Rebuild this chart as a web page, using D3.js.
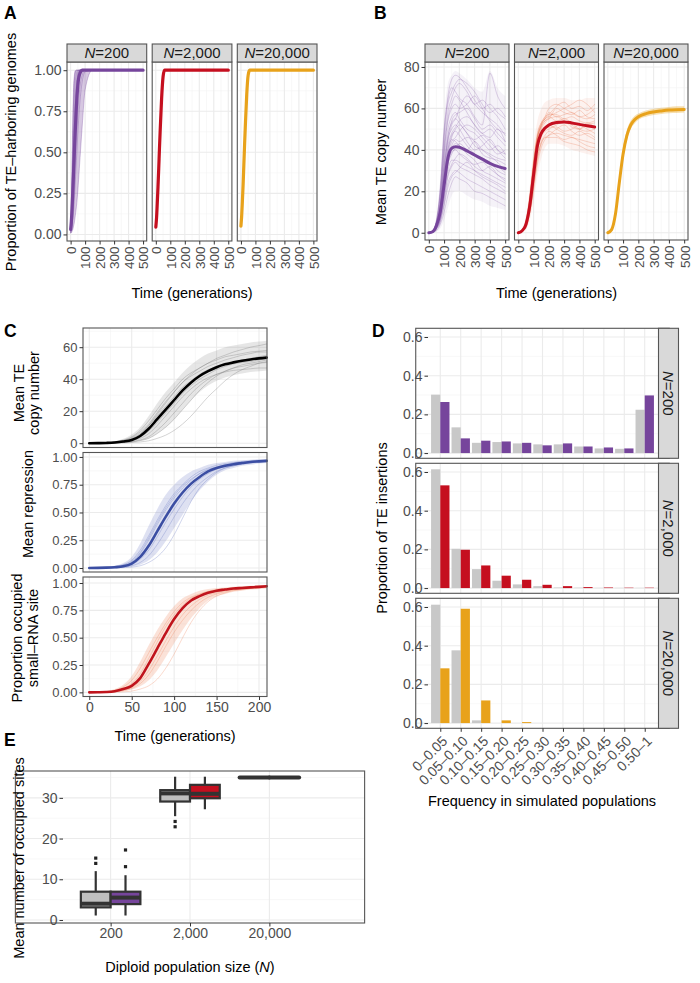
<!DOCTYPE html>
<html><head><meta charset="utf-8">
<script src="https://cdn.jsdelivr.net/npm/d3@7/dist/d3.min.js"></script>
<style>
html,body{margin:0;padding:0;background:#fff;}
svg text{font-family:'Liberation Sans',Arial,Helvetica,sans-serif;}
</style></head>
<body><svg width="700" height="983"></svg>
<script>
// ================= DATA =================
const popLabels = ["200", "2,000", "20,000"];

// ---- Panel A: proportion of TE-harboring genomes ----
const timeA = [0, 5, 10, 15, 20, 25, 30, 40, 50, 60, 80, 100, 150, 200, 300, 400, 500];
const propMean200   = [0.03, 0.08, 0.16, 0.26, 0.37, 0.48, 0.59, 0.78, 0.91, 0.97, 1, 1, 1, 1, 1, 1, 1];
const propMean2000  = [0.045, 0.1, 0.19, 0.29, 0.4, 0.52, 0.63, 0.83, 0.96, 1, 1, 1, 1, 1, 1, 1, 1];
const propMean20000 = [0.05, 0.11, 0.2, 0.3, 0.42, 0.54, 0.65, 0.85, 0.97, 1, 1, 1, 1, 1, 1, 1, 1];
const propHi200 = [0.05, 0.22, 0.48, 0.74, 0.9, 0.97, 1, 1, 1, 1, 1, 1, 1, 1, 1, 1, 1];
const propLo200 = [0.01, 0.01, 0.02, 0.03, 0.05, 0.07, 0.1, 0.17, 0.27, 0.4, 0.66, 0.88, 1, 1, 1, 1, 1];
const propReps200 = [
  [0.03, 0.1, 0.25, 0.45, 0.65, 0.8, 0.9, 0.98, 1, 1, 1, 1, 1, 1, 1, 1, 1],
  [0.02, 0.05, 0.12, 0.25, 0.4, 0.55, 0.68, 0.86, 0.96, 0.99, 1, 1, 1, 1, 1, 1, 1],
  [0.04, 0.15, 0.35, 0.6, 0.8, 0.92, 0.97, 1, 1, 1, 1, 1, 1, 1, 1, 1, 1],
  [0.02, 0.04, 0.08, 0.15, 0.25, 0.36, 0.48, 0.7, 0.86, 0.94, 0.99, 1, 1, 1, 1, 1, 1],
  [0.03, 0.08, 0.18, 0.33, 0.5, 0.66, 0.78, 0.93, 0.99, 1, 1, 1, 1, 1, 1, 1, 1],
  [0.01, 0.02, 0.04, 0.08, 0.13, 0.2, 0.28, 0.45, 0.62, 0.76, 0.93, 0.99, 1, 1, 1, 1, 1],
  [0.05, 0.2, 0.45, 0.7, 0.88, 0.96, 0.99, 1, 1, 1, 1, 1, 1, 1, 1, 1, 1],
  [0.01, 0.03, 0.06, 0.11, 0.18, 0.27, 0.37, 0.57, 0.74, 0.86, 0.97, 1, 1, 1, 1, 1, 1],
  [0.02, 0.06, 0.15, 0.3, 0.47, 0.62, 0.75, 0.9, 0.97, 1, 1, 1, 1, 1, 1, 1, 1],
  [0.01, 0.01, 0.02, 0.03, 0.05, 0.07, 0.1, 0.17, 0.27, 0.4, 0.66, 0.88, 1, 1, 1, 1, 1]
];

// ---- Panel B: mean TE copy number ----
const timeB = [0, 25, 50, 75, 100, 125, 150, 175, 200, 250, 300, 350, 400, 450, 500];
const copyMean200   = [0, 0.5, 3.5, 10, 23, 36, 40.8, 41.5, 41.3, 39.5, 37.5, 35.5, 33.5, 32, 31];
const copyMean2000  = [0, 1, 4, 13, 28, 42, 48, 50.5, 52, 53.2, 53.5, 53, 52.3, 51.6, 51];
const copyMean20000 = [0, 1.5, 9, 24, 38, 47, 52, 54.5, 56, 57.5, 58.3, 58.8, 59.2, 59.4, 59.5];
const copyHi200 = [0, 1.5, 8, 26, 56, 72, 76, 78, 77, 74, 70, 68, 78, 70, 66];
const copyLo200 = [0, 0, 0.5, 2, 6, 12, 18, 20, 20, 18, 16, 15, 13, 12, 11];
const copyHi2000 = [0, 2, 8, 22, 42, 54, 60, 63, 64, 65, 65, 64, 64, 65, 65];
const copyLo2000 = [0, 0.4, 1.5, 6, 15, 27, 36, 41, 43, 43, 42, 40, 39, 38, 37];
const copyHi20000 = [0, 2.2, 11, 27, 41, 49.5, 54, 56.3, 57.5, 59, 59.8, 60.3, 60.7, 61, 61];
const copyLo20000 = [0, 1, 7, 21, 35, 44.5, 50, 52.7, 54.5, 56, 56.8, 57.3, 57.7, 57.8, 58];
const copyReps200 = [
  [0, 1, 5, 20, 48, 66, 74, 76, 75, 70, 64, 60, 62, 58, 55],
  [0, 0.5, 3, 10, 24, 36, 41, 43, 42, 38, 35, 30, 28, 26, 24],
  [0, 0.3, 2, 6, 14, 24, 28, 30, 29, 26, 24, 22, 20, 18, 16],
  [0, 0.5, 4, 14, 36, 50, 56, 58, 55, 50, 48, 44, 40, 42, 38],
  [0, 0.5, 3, 10, 26, 40, 47, 49, 47, 42, 38, 36, 34, 30, 28],
  [0, 0.2, 1, 4, 10, 18, 24, 27, 26, 24, 20, 19, 17, 15, 13],
  [0, 0.5, 4, 12, 30, 46, 54, 57, 58, 60, 55, 50, 52, 48, 44],
  [0, 0.5, 3, 9, 22, 35, 42, 45, 44, 46, 44, 38, 36, 35, 33],
  [0, 1, 6, 22, 50, 64, 70, 68, 65, 62, 56, 52, 77, 66, 60],
  [0, 0.3, 2, 7, 18, 30, 35, 35, 34, 32, 30, 28, 26, 24, 22],
  [0, 0.5, 3, 9, 24, 38, 46, 50, 52, 48, 42, 40, 38, 36, 35],
  [0, 0.5, 4, 13, 32, 45, 50, 52, 50, 44, 40, 42, 45, 40, 36],
  [0, 0.5, 3, 10, 25, 37, 44, 46, 49, 52, 50, 46, 42, 38, 40],
  [0, 0.3, 2, 6, 16, 27, 32, 34, 32, 30, 28, 26, 23, 21, 19],
  [0, 0.8, 5, 18, 42, 58, 65, 70, 72, 68, 62, 64, 60, 56, 50],
  [0, 0.5, 3, 11, 27, 40, 45, 44, 42, 40, 44, 40, 37, 34, 30],
  [0, 0.4, 3, 12, 30, 44, 52, 55, 60, 66, 62, 58, 55, 52, 47],
  [0, 0.6, 4, 15, 38, 55, 62, 66, 64, 58, 52, 48, 50, 46, 42],
  [0, 0.2, 1.5, 5, 13, 22, 27, 29, 31, 34, 30, 27, 25, 23, 20],
  [0, 0.7, 5, 17, 40, 54, 60, 62, 60, 62, 66, 60, 54, 50, 48],
  [0, 0.4, 2.5, 8, 20, 33, 39, 40, 38, 35, 33, 34, 31, 28, 26],
  [0, 0.5, 3.5, 11, 28, 42, 48, 51, 54, 56, 52, 48, 46, 50, 44],
  [0, 0.3, 2, 7, 17, 28, 33, 36, 38, 36, 32, 30, 32, 28, 25],
  [0, 0.8, 6, 20, 46, 62, 68, 72, 74, 72, 68, 62, 58, 60, 56],
  [0, 0.4, 2.5, 9, 21, 33, 38, 41, 43, 40, 37, 36, 34, 32, 29],
  [0, 0.6, 4, 13, 33, 47, 53, 55, 53, 48, 45, 47, 44, 40, 38]
];
const copyReps2000 = [
  [0, 1.2, 5, 16, 33, 47, 53, 56, 57, 57, 55, 56, 54, 53, 54],
  [0, 0.8, 3, 10, 23, 36, 43, 46, 47, 48, 47, 46, 45, 44, 43],
  [0, 1, 4.5, 14, 30, 44, 51, 54, 55, 60, 58, 57, 59, 56, 55],
  [0, 0.6, 2.5, 9, 20, 33, 41, 45, 47, 50, 52, 49, 47, 48, 46],
  [0, 1.5, 6, 18, 35, 48, 53, 55, 56, 54, 55, 53, 50, 49, 50],
  [0, 1, 4, 12, 27, 41, 47, 50, 51, 51, 49, 50, 52, 50, 48],
  [0, 1.2, 5, 15, 31, 45, 52, 56, 60, 62, 60, 58, 56, 57, 60],
  [0, 0.7, 3, 10, 22, 35, 43, 46, 46, 46, 44, 43, 42, 40, 39],
  [0, 1, 4, 13, 29, 43, 50, 53, 55, 56, 54, 52, 50, 52, 53],
  [0, 1.4, 5.5, 17, 34, 46, 51, 54, 56, 58, 60, 62, 64, 62, 58],
  [0, 0.9, 3.5, 11, 25, 39, 46, 49, 50, 52, 54, 51, 50, 53, 51],
  [0, 1.1, 4.5, 15, 32, 46, 52, 55, 58, 56, 57, 58, 56, 55, 57],
  [0, 0.8, 3.5, 11, 24, 37, 44, 47, 49, 47, 45, 46, 44, 42, 41],
  [0, 1.3, 5, 16, 33, 46, 52, 55, 57, 61, 63, 60, 61, 59, 62],
  [0, 0.9, 4, 13, 28, 41, 47, 50, 52, 50, 48, 47, 49, 47, 45]
];

// ---- Panel C: dynamics for N=2,000 ----
const timeC = [0, 10, 20, 30, 40, 50, 60, 70, 80, 90, 100, 110, 120, 130, 140, 150, 160, 170, 180, 190, 200, 209];
const teMean = [0, 0.05, 0.15, 0.4, 1, 2, 4.5, 9, 15, 21, 27, 33, 38, 42, 45, 47.5, 49.3, 50.5, 51.5, 52.3, 53, 53.5];
const teHi = [0, 0.2, 0.5, 1.2, 2.8, 5.5, 10, 17, 25, 32, 38, 44, 49, 53, 56, 58, 60, 61, 62, 63, 63.5, 64];
const teLo = [0, 0, 0.05, 0.15, 0.35, 0.8, 1.5, 3, 6, 10, 15, 21, 27, 32, 36, 39, 41, 42.5, 43.5, 44.5, 45, 45.5];
const teReps = [
  [0, 0.1, 0.3, 0.8, 2, 4, 8, 14, 21, 28, 34, 40, 44, 47, 50, 52, 54, 55, 56, 57, 57.5, 58],
  [0, 0, 0.1, 0.2, 0.5, 1, 2, 4, 8, 13, 19, 25, 31, 36, 40, 43, 45, 47, 48, 49, 50, 50.5],
  [0, 0.05, 0.2, 0.5, 1.2, 2.5, 5.5, 11, 18, 25, 32, 38, 43, 47, 50, 53, 55, 57, 58.5, 60, 61, 62],
  [0, 0, 0.1, 0.3, 0.7, 1.5, 3, 6, 11, 17, 23, 29, 34, 38, 41, 43, 44.5, 45.5, 46, 46.5, 47, 47],
  [0, 0.1, 0.2, 0.6, 1.4, 3, 6, 11, 17, 23, 29, 35, 39, 43, 46, 48, 50, 51, 52, 53, 54, 55],
  [0, 0, 0.05, 0.2, 0.4, 0.8, 1.6, 3, 6, 10, 15, 21, 27, 33, 38, 42, 45, 47, 49, 50, 51, 52],
  [0, 0.1, 0.3, 0.7, 1.6, 3.5, 7, 12, 19, 26, 32, 38, 42, 45, 48, 50, 52, 53.5, 55, 56, 57, 57],
  [0, 0.05, 0.1, 0.3, 0.8, 1.8, 3.8, 7.5, 13, 19, 25, 31, 36, 40, 43, 46, 48, 49.5, 50.5, 51, 52, 53],
  [0, 0, 0, 0.1, 0.2, 0.4, 0.8, 1.5, 3, 5, 8, 12, 17, 23, 29, 34, 39, 43, 46, 48, 50, 51]
];
const repMean = [0, 0.001, 0.003, 0.007, 0.015, 0.04, 0.1, 0.2, 0.33, 0.46, 0.58, 0.68, 0.76, 0.82, 0.87, 0.9, 0.92, 0.935, 0.945, 0.955, 0.96, 0.965];
const repHi = [0, 0.003, 0.008, 0.02, 0.045, 0.1, 0.22, 0.38, 0.53, 0.66, 0.75, 0.82, 0.87, 0.9, 0.93, 0.945, 0.955, 0.965, 0.97, 0.975, 0.98, 0.98];
const repLo = [0, 0, 0.001, 0.002, 0.005, 0.012, 0.03, 0.07, 0.14, 0.24, 0.36, 0.48, 0.6, 0.7, 0.78, 0.84, 0.88, 0.9, 0.92, 0.93, 0.94, 0.945];
const repReps = [
  [0, 0.002, 0.006, 0.015, 0.03, 0.07, 0.16, 0.29, 0.43, 0.56, 0.67, 0.75, 0.82, 0.87, 0.9, 0.925, 0.94, 0.95, 0.96, 0.965, 0.97, 0.97],
  [0, 0, 0.001, 0.003, 0.008, 0.02, 0.05, 0.11, 0.21, 0.33, 0.46, 0.58, 0.68, 0.76, 0.82, 0.87, 0.9, 0.92, 0.935, 0.945, 0.955, 0.96],
  [0, 0.001, 0.004, 0.01, 0.02, 0.05, 0.13, 0.25, 0.39, 0.52, 0.63, 0.72, 0.79, 0.85, 0.89, 0.91, 0.93, 0.945, 0.955, 0.96, 0.965, 0.97],
  [0, 0, 0.002, 0.005, 0.012, 0.03, 0.08, 0.16, 0.28, 0.41, 0.53, 0.64, 0.73, 0.8, 0.85, 0.89, 0.91, 0.93, 0.94, 0.95, 0.96, 0.96],
  [0, 0.002, 0.005, 0.012, 0.025, 0.06, 0.14, 0.27, 0.41, 0.54, 0.65, 0.74, 0.8, 0.85, 0.88, 0.9, 0.92, 0.94, 0.95, 0.955, 0.96, 0.965],
  [0, 0, 0, 0.001, 0.003, 0.008, 0.02, 0.05, 0.1, 0.18, 0.3, 0.45, 0.6, 0.72, 0.8, 0.86, 0.9, 0.92, 0.94, 0.95, 0.955, 0.96]
];
const occMean = [0, 0.001, 0.003, 0.01, 0.03, 0.06, 0.13, 0.26, 0.4, 0.54, 0.67, 0.77, 0.84, 0.88, 0.91, 0.93, 0.94, 0.95, 0.955, 0.96, 0.965, 0.97];
const occHi = [0, 0.003, 0.01, 0.03, 0.07, 0.15, 0.28, 0.43, 0.57, 0.69, 0.79, 0.86, 0.9, 0.93, 0.945, 0.955, 0.96, 0.965, 0.97, 0.975, 0.98, 0.98];
const occLo = [0, 0, 0.001, 0.003, 0.01, 0.025, 0.055, 0.11, 0.2, 0.32, 0.45, 0.57, 0.68, 0.77, 0.84, 0.88, 0.9, 0.92, 0.93, 0.94, 0.945, 0.95];
const occReps = [
  [0, 0.002, 0.006, 0.02, 0.05, 0.11, 0.22, 0.36, 0.5, 0.63, 0.74, 0.82, 0.87, 0.9, 0.925, 0.94, 0.95, 0.955, 0.96, 0.965, 0.97, 0.97],
  [0, 0, 0.002, 0.005, 0.015, 0.035, 0.08, 0.16, 0.28, 0.42, 0.55, 0.66, 0.75, 0.82, 0.87, 0.9, 0.92, 0.935, 0.945, 0.95, 0.96, 0.965],
  [0, 0.001, 0.004, 0.012, 0.035, 0.08, 0.17, 0.31, 0.46, 0.6, 0.71, 0.8, 0.86, 0.895, 0.92, 0.935, 0.945, 0.955, 0.96, 0.965, 0.97, 0.97],
  [0, 0.001, 0.002, 0.007, 0.02, 0.045, 0.1, 0.2, 0.33, 0.47, 0.6, 0.71, 0.79, 0.85, 0.89, 0.91, 0.93, 0.94, 0.95, 0.955, 0.96, 0.965],
  [0, 0, 0, 0.002, 0.005, 0.012, 0.03, 0.06, 0.12, 0.22, 0.35, 0.5, 0.64, 0.75, 0.83, 0.88, 0.91, 0.93, 0.94, 0.95, 0.955, 0.96]
];

// ---- Panel D: site frequency spectrum ----
const freqBins = ["0–0.05", "0.05–0.10", "0.10–0.15", "0.15–0.20", "0.20–0.25", "0.25–0.30", "0.30–0.35", "0.35–0.40", "0.40–0.45", "0.45–0.50", "0.50–1"];
const neutral200   = [0.302, 0.133, 0.053, 0.057, 0.050, 0.045, 0.045, 0.034, 0.024, 0.022, 0.224];
const sim200       = [0.264, 0.076, 0.064, 0.060, 0.053, 0.040, 0.050, 0.034, 0.029, 0.024, 0.298];
const neutral2000  = [0.614, 0.203, 0.098, 0.038, 0.019, 0.010, 0.003, 0.002, 0.001, 0.001, 0.001];
const sim2000      = [0.531, 0.198, 0.117, 0.064, 0.043, 0.017, 0.010, 0.005, 0.003, 0.002, 0.002];
const neutral20000 = [0.612, 0.376, 0.014, 0, 0, 0, 0, 0, 0, 0, 0];
const sim20000     = [0.283, 0.591, 0.117, 0.014, 0.005, 0, 0, 0, 0, 0, 0];

// ---- Panel E: occupied sites boxplots ----
const neutralLow  = [1.1, 25.5, 35];
const neutralQ1   = [3.1, 29.1, 35];
const neutralMed  = [4.0, 31.1, 35];
const neutralQ3   = [6.95, 31.9, 35];
const neutralHigh = [12, 35.2, 35];
const neutralOut  = [[13.9, 15.2], [22.9, 24.2], []];
const simLow  = [1.1, 27.2, 35];
const simQ1   = [3.9, 29.9, 35];
const simMed  = [5.5, 31.0, 35];
const simQ3   = [6.95, 33.2, 35];
const simHigh = [11, 35.2, 35];
const simOut  = [[13.1, 17.2], [], []];

// ================= DRAW =================
const svg = d3.select("svg");
const COL = { purple: "#76459c", red: "#c50f1f", orange: "#e8a21b", grey: "#c8c8c8", boxGrey: "#bfbfbf" };
const popColors = [COL.purple, COL.red, COL.orange];
const GRID_MAJ = "#ebebeb", GRID_MIN = "#f4f4f4", BORDER = "#555", TICKTXT = "#4d4d4d", DARK = "#333";

function gridPanel(g, x, y, xMaj, xMin, yMaj, yMin) {
  const pad = x.step ? x.step() * x.padding() : 0;
  const x0 = x.range()[0] - pad, x1 = x.range()[1] + pad;
  const [yb, yt] = y.range();
  g.append("rect").attr("x", x0).attr("y", yt).attr("width", x1 - x0).attr("height", yb - yt).attr("fill", "#fff");
  const vl = (v, c, w) => g.append("line").attr("x1", x(v)).attr("x2", x(v)).attr("y1", yt).attr("y2", yb).attr("stroke", c).attr("stroke-width", w);
  const hl = (v, c, w) => g.append("line").attr("y1", y(v)).attr("y2", y(v)).attr("x1", x0).attr("x2", x1).attr("stroke", c).attr("stroke-width", w);
  (yMin || []).forEach(v => hl(v, GRID_MIN, 0.6));
  (xMin || []).forEach(v => vl(v, GRID_MIN, 0.6));
  (yMaj || []).forEach(v => hl(v, GRID_MAJ, 1.1));
  (xMaj || []).forEach(v => vl(v, GRID_MAJ, 1.1));
  return [x0, x1, yt, yb];
}
function borderRect(g, b) {
  g.append("rect").attr("x", b[0]).attr("y", b[2]).attr("width", b[1] - b[0]).attr("height", b[3] - b[2])
    .attr("fill", "none").attr("stroke", BORDER).attr("stroke-width", 1.1);
}
function styleAxis(sel, fs) {
  sel.select(".domain").remove();
  sel.selectAll(".tick line").attr("stroke", DARK).attr("stroke-width", 1);
  sel.selectAll(".tick text").attr("fill", TICKTXT).style("font-size", (fs || 14) + "px")
    .style("font-family", "'Liberation Sans',Arial,Helvetica,sans-serif");
}
function drawLine(g, xs, ys, x, y, color, width, opacity) {
  const line = d3.line().x((d, i) => x(xs[i])).y(d => y(d)).curve(d3.curveMonotoneX);
  g.append("path").datum(ys).attr("d", line).attr("fill", "none").attr("stroke", color)
    .attr("stroke-width", width).attr("stroke-opacity", opacity).attr("stroke-linejoin", "round").attr("stroke-linecap", "round");
}
function drawBand(g, xs, lo, hi, x, y, color, opacity) {
  const area = d3.area().x((d, i) => x(xs[i])).y0((d, i) => y(lo[i])).y1((d, i) => y(hi[i])).curve(d3.curveMonotoneX);
  g.append("path").datum(lo).attr("d", area).attr("fill", color).attr("fill-opacity", opacity);
}
function nLabel(t, value) {
  t.append("tspan").attr("font-style", "italic").text("N");
  t.append("tspan").text("=" + value);
}
function stripTop(x0, x1, y0, y1, value) {
  svg.append("rect").attr("x", x0).attr("y", y0).attr("width", x1 - x0).attr("height", y1 - y0)
    .attr("fill", "#d9d9d9").attr("stroke", BORDER).attr("stroke-width", 1.1);
  const t = svg.append("text").attr("x", (x0 + x1) / 2).attr("y", (y0 + y1) / 2).attr("dy", "0.36em")
    .attr("text-anchor", "middle").attr("font-size", 15).attr("fill", "#1a1a1a");
  nLabel(t, value);
}
function stripRight(x0, x1, y0, y1, value) {
  svg.append("rect").attr("x", x0).attr("y", y0).attr("width", x1 - x0).attr("height", y1 - y0)
    .attr("fill", "#d9d9d9").attr("stroke", BORDER).attr("stroke-width", 1.1);
  const t = svg.append("text").attr("transform", `translate(${(x0 + x1) / 2},${(y0 + y1) / 2}) rotate(90)`)
    .attr("dy", "0.36em").attr("text-anchor", "middle").attr("font-size", 15).attr("fill", "#1a1a1a");
  nLabel(t, value);
}
function title(x, y, s, rot, size) {
  return svg.append("text").attr("transform", `translate(${x},${y})` + (rot ? ` rotate(${rot})` : ""))
    .attr("text-anchor", "middle").attr("font-size", size || 14.5).attr("fill", "#000").text(s);
}
function letter(x, y, s) {
  svg.append("text").attr("x", x).attr("y", y).attr("font-size", 17.5).attr("font-weight", "bold").attr("fill", "#000").text(s);
}
function rotatedXAxis(g, x, yPos) {
  const ax = g.append("g").attr("transform", `translate(0,${yPos})`)
    .call(d3.axisBottom(x).tickValues([0, 100, 200, 300, 400, 500]).tickSize(3.5).tickFormat(d3.format("d")));
  styleAxis(ax, 13.5);
  ax.selectAll(".tick text").attr("transform", "rotate(-90)").attr("text-anchor", "end")
    .attr("x", -5.5).attr("y", 0).attr("dy", "0.36em");
}

// ---------- Panel A ----------
letter(4, 18.5, "A");
const aRanges = [[67, 146.7], [152.2, 231.9], [237.3, 317]];
const aMeans = [propMean200, propMean2000, propMean20000];
aRanges.forEach((r, i) => {
  const x = d3.scaleLinear().domain([-25, 525]).range(r);
  const y = d3.scaleLinear().domain([-0.04, 1.05]).range([241, 62]);
  const g = svg.append("g");
  const b = gridPanel(g, x, y, [0, 100, 200, 300, 400, 500], [50, 150, 250, 350, 450], [0, 0.25, 0.5, 0.75, 1], [0.125, 0.375, 0.625, 0.875]);
  if (i === 0) {
    drawBand(g, timeA, propLo200, propHi200, x, y, COL.purple, 0.3);
    propReps200.forEach(rp => drawLine(g, timeA, rp, x, y, COL.purple, 0.8, 0.4));
  }
  drawLine(g, timeA, aMeans[i], x, y, popColors[i], 3.2, 1);
  borderRect(g, b);
  stripTop(r[0], r[1], 44, 62, popLabels[i]);
  rotatedXAxis(g, x, 241);
  if (i === 0) {
    const ay = g.append("g").attr("transform", `translate(${r[0]},0)`)
      .call(d3.axisLeft(y).tickValues([0, 0.25, 0.5, 0.75, 1]).tickSize(3.5).tickPadding(2).tickFormat(d3.format(".2f")));
    styleAxis(ay, 14);
  }
});
title(15.5, 152, "Proportion of TE–harboring genomes", -90);
title(192, 298, "Time (generations)");

// ---------- Panel B ----------
letter(374, 18.5, "B");
const bRanges = [[425, 509], [514.5, 598.5], [604, 688]];
const bMeans = [copyMean200, copyMean2000, copyMean20000];
const bHi = [copyHi200, copyHi2000, copyHi20000];
const bLo = [copyLo200, copyLo2000, copyLo20000];
const bReps = [copyReps200, copyReps2000, []];
const bRepColors = [COL.purple, "#e2582e", COL.orange];
const bBandOp = [0.07, 0.08, 0.35];
bRanges.forEach((r, i) => {
  const x = d3.scaleLinear().domain([-25, 525]).range(r);
  const y = d3.scaleLinear().domain([-3.5, 82.4]).range([240, 62]);
  const g = svg.append("g");
  const b = gridPanel(g, x, y, [0, 100, 200, 300, 400, 500], [50, 150, 250, 350, 450], [0, 20, 40, 60, 80], [10, 30, 50, 70]);
  drawBand(g, timeB, bLo[i], bHi[i], x, y, bRepColors[i], bBandOp[i]);
  bReps[i].forEach(rp => drawLine(g, timeB, rp, x, y, bRepColors[i], 0.7, 0.32));
  drawLine(g, timeB, bMeans[i], x, y, popColors[i], 3, 1);
  borderRect(g, b);
  stripTop(r[0], r[1], 44, 62, popLabels[i]);
  rotatedXAxis(g, x, 240);
  if (i === 0) {
    const ay = g.append("g").attr("transform", `translate(${r[0]},0)`)
      .call(d3.axisLeft(y).tickValues([0, 20, 40, 60, 80]).tickSize(3.5).tickPadding(2));
    styleAxis(ay, 14);
  }
});
title(386, 152, "Mean TE copy number", -90);
title(556.5, 298, "Time (generations)");

// ---------- Panel C ----------
letter(4, 337, "C");
const cx = d3.scaleLinear().domain([-7.4, 209.4]).range([83, 267]);
const cPanels = [
  { y0: 328, y1: 447.5, dom: [-2.7, 72], maj: [0, 20, 40, 60], min: [10, 30, 50, 70], fmt: d3.format("d"),
    mean: teMean, hi: teHi, lo: teLo, reps: teReps, col: "#000", repCol: "#777", bandOp: 0.18 },
  { y0: 452.5, y1: 572, dom: [-0.036, 1.04], maj: [0, 0.25, 0.5, 0.75, 1], min: [0.125, 0.375, 0.625, 0.875], fmt: d3.format(".2f"),
    mean: repMean, hi: repHi, lo: repLo, reps: repReps, col: "#3b4ea3", repCol: "#6878c4", bandOp: 0.22 },
  { y0: 577, y1: 696.5, dom: [-0.038, 1.055], maj: [0, 0.25, 0.5, 0.75, 1], min: [0.125, 0.375, 0.625, 0.875], fmt: d3.format(".2f"),
    mean: occMean, hi: occHi, lo: occLo, reps: occReps, col: "#c0141c", repCol: "#ee8a62", bandOp: 0.25 }
];
cPanels.forEach((p, i) => {
  const y = d3.scaleLinear().domain(p.dom).range([p.y1, p.y0]);
  const g = svg.append("g");
  const b = gridPanel(g, cx, y, [0, 50, 100, 150, 200], [25, 75, 125, 175], p.maj, p.min);
  drawBand(g, timeC, p.lo, p.hi, cx, y, p.repCol, p.bandOp);
  p.reps.forEach(rp => drawLine(g, timeC, rp, cx, y, p.repCol, 0.7, 0.45));
  drawLine(g, timeC, p.mean, cx, y, p.col, 2.6, 1);
  borderRect(g, b);
  const ay = g.append("g").attr("transform", "translate(83,0)")
    .call(d3.axisLeft(y).tickValues(p.maj).tickSize(3.5).tickPadding(2).tickFormat(p.fmt));
  styleAxis(ay, 13);
  if (i === 2) {
    const ax = g.append("g").attr("transform", `translate(0,${p.y1})`)
      .call(d3.axisBottom(cx).tickValues([0, 50, 100, 150, 200]).tickSize(3.5).tickPadding(2));
    styleAxis(ax, 14);
  }
});
title(24, 393, "Mean TE", -90);
title(39, 393, "copy number", -90);
title(33, 504, "Mean repression", -90);
title(22, 638, "Proportion occupied", -90);
title(38, 638, "small–RNA site", -90);
title(175, 741, "Time (generations)");

// ---------- Panel D ----------
letter(372, 337, "D");
const dx = d3.scalePoint().domain(freqBins).range([428, 657]).padding(0.6);
const dStep = dx.step();
const dNeutral = [neutral200, neutral2000, neutral20000];
const dSim = [sim200, sim2000, sim20000];
const dTops = [328.3, 463.3, 598.3];
dTops.forEach((top, i) => {
  const y = d3.scaleLinear().domain([-0.027, 0.645]).range([top + 130, top]);
  const g = svg.append("g");
  const b = gridPanel(g, dx, y, freqBins, [], [0, 0.2, 0.4, 0.6], [0.1, 0.3, 0.5]);
  const bw = 0.45 * dStep;
  g.selectAll(null).data(freqBins).enter().append("rect")
    .attr("x", d => dx(d) - bw).attr("width", bw)
    .attr("y", (d, k) => y(dNeutral[i][k])).attr("height", (d, k) => y(0) - y(dNeutral[i][k]))
    .attr("fill", COL.grey);
  g.selectAll(null).data(freqBins).enter().append("rect")
    .attr("x", d => dx(d)).attr("width", bw)
    .attr("y", (d, k) => y(dSim[i][k])).attr("height", (d, k) => y(0) - y(dSim[i][k]))
    .attr("fill", popColors[i]);
  borderRect(g, b);
  stripRight(658.5, 678.5, top, top + 130, popLabels[i]);
  const ay = g.append("g").attr("transform", "translate(428,0)")
    .call(d3.axisLeft(y).tickValues([0, 0.2, 0.4, 0.6]).tickSize(3.5).tickPadding(2).tickFormat(d3.format(".1f")));
  styleAxis(ay, 14);
  if (i === 2) {
    const ax = g.append("g").attr("transform", `translate(0,${top + 130})`)
      .call(d3.axisBottom(dx).tickSize(3.5));
    styleAxis(ax, 14);
    ax.selectAll(".tick text").attr("text-anchor", "end").attr("x", 0).attr("y", 0).attr("dy", "0.36em")
      .attr("transform", "translate(4,10) rotate(-45)");
  }
});
title(387, 528, "Proportion of TE insertions", -90);
title(542, 806, "Frequency in simulated populations");

// ---------- Panel E ----------
letter(4, 746, "E");
const ex = d3.scalePoint().domain(popLabels).range([63, 317]).padding(0.6);
const ey = d3.scaleLinear().domain([-0.74, 36.6]).range([923, 771]);
const eg = svg.append("g");
const eb = gridPanel(eg, ex, ey, popLabels, [], [0, 10, 20, 30], [5, 15, 25, 35]);
const half = 0.375 * ex.step();
function boxes(offset, low, q1, med, q3, high, outs, fills) {
  popLabels.forEach((p, k) => {
    const x0 = ex(p) + offset, xm = x0 + half / 2;
    eg.append("line").attr("x1", xm).attr("x2", xm).attr("y1", ey(q3[k])).attr("y2", ey(high[k])).attr("stroke", DARK).attr("stroke-width", 2.2);
    eg.append("line").attr("x1", xm).attr("x2", xm).attr("y1", ey(q1[k])).attr("y2", ey(low[k])).attr("stroke", DARK).attr("stroke-width", 2.2);
    eg.append("rect").attr("x", x0).attr("width", half).attr("y", ey(q3[k])).attr("height", ey(q1[k]) - ey(q3[k]))
      .attr("fill", fills[k]).attr("stroke", DARK).attr("stroke-width", 2.2);
    eg.append("line").attr("x1", x0).attr("x2", x0 + half).attr("y1", ey(med[k])).attr("y2", ey(med[k]))
      .attr("stroke", DARK).attr("stroke-width", 4).attr("stroke-linecap", k === 2 ? "round" : "butt");
    outs[k].forEach(v => eg.append("rect").attr("x", xm - 1.6).attr("y", ey(v) - 1.6).attr("width", 3.2).attr("height", 3.2).attr("fill", "#222"));
  });
}
boxes(-half, neutralLow, neutralQ1, neutralMed, neutralQ3, neutralHigh, neutralOut, [COL.boxGrey, COL.boxGrey, COL.boxGrey]);
boxes(0, simLow, simQ1, simMed, simQ3, simHigh, simOut, popColors);
borderRect(eg, eb);
const eay = eg.append("g").attr("transform", "translate(63,0)")
  .call(d3.axisLeft(ey).tickValues([0, 10, 20, 30]).tickSize(3.5).tickPadding(2));
styleAxis(eay, 14);
const eax = eg.append("g").attr("transform", "translate(0,923)").call(d3.axisBottom(ex).tickSize(3.5).tickPadding(2));
styleAxis(eax, 14);
title(24, 858, "Mean number of occupied sites", -90);
const et = svg.append("text").attr("x", 190).attr("y", 972).attr("text-anchor", "middle").attr("font-size", 14.5).attr("fill", "#000");
et.append("tspan").text("Diploid population size (");
et.append("tspan").attr("font-style", "italic").text("N");
et.append("tspan").text(")");
</script>
</body></html>
